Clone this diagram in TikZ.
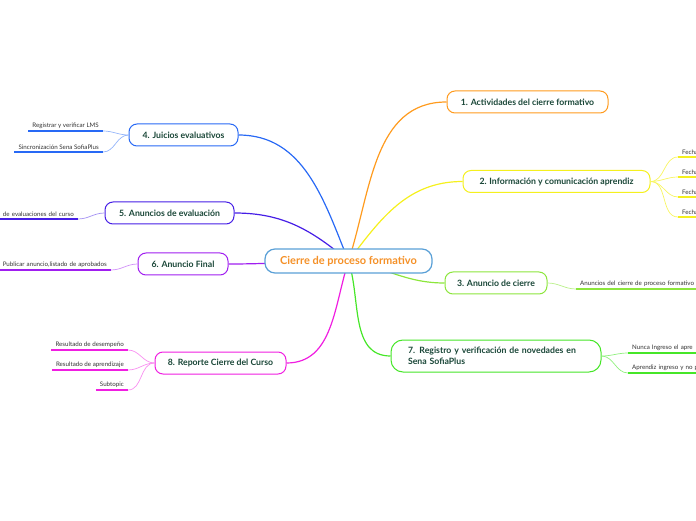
\documentclass[tikz,border=0pt]{standalone}
\usepackage{fontspec}
\setmainfont{Lato}
\usepackage{tikz}
\usetikzlibrary{backgrounds}
\definecolor{rootline}{RGB}{90,160,215}
\definecolor{roottext}{RGB}{245,145,40}
\definecolor{titletext}{RGB}{25,70,55}
\definecolor{subtext}{RGB}{50,50,50}
\definecolor{brone}{RGB}{255,155,30}
\definecolor{brtwo}{RGB}{245,240,30}
\definecolor{brthree}{RGB}{140,230,60}
\definecolor{brfour}{RGB}{40,105,245}
\definecolor{brfive}{RGB}{70,30,230}
\definecolor{brsix}{RGB}{160,30,240}
\definecolor{brseven}{RGB}{70,230,40}
\definecolor{breight}{RGB}{240,30,225}

\begin{document}
\begin{tikzpicture}[x=1pt, y=1pt,
    topic/.style={draw, fill=white, rounded corners=8pt, line width=1pt,
        minimum height=22pt, inner sep=2pt, text=titletext,
        font=\bfseries\fontsize{8.7}{11}\selectfont},
    subtopic/.style={inner xsep=4pt, inner ysep=2pt, text=subtext,
        font=\fontsize{6.2}{7}\selectfont},
    branch/.style={line width=1.2pt},
    twig/.style={line width=0.7pt},
    uline/.style={line width=1.8pt}
]
\useasboundingbox (0,0) rectangle (696,520);
\clip (0,0) rectangle (696,520);
\node[draw=rootline, fill=white, rounded corners=10pt, line width=1.2pt,
    minimum width=167pt, minimum height=24pt, text=roottext,
    font=\bfseries\fontsize{11}{13}\selectfont] (root) at (348.5,259)
    {Cierre de proceso formativo};
\node[topic, draw=brone, minimum width=161pt] (t1) at (527.5,418)
    {1. Actividades del cierre formativo};
\node[topic, draw=brtwo, minimum width=187pt] (t2) at (556.5,338.5)
    {2. Información y comunicación aprendiz};
\node[topic, draw=brthree, minimum width=102pt] (t3) at (496,237)
    {3. Anuncio de cierre};
\node[topic, draw=brfour, minimum width=109pt] (t4) at (183.5,385)
    {4. Juicios evaluativos};
\node[topic, draw=brfive, minimum width=129pt] (t5) at (169.5,307)
    {5. Anuncios de evaluación};
\node[topic, draw=brsix, minimum width=90pt] (t6) at (183,256)
    {6. Anuncio Final};
\node[topic, draw=brseven, minimum height=32pt, text width=180pt,
    inner xsep=15pt, align=left, rounded corners=12pt] (t7) at (496,164)
    {\hspace*{2pt}7. Registro y verificación de novedades en\\\hspace*{2pt}Sena SofiaPlus};
\node[topic, draw=breight, minimum width=131pt] (t8) at (220.5,157)
    {8. Reporte Cierre del Curso};

\node[subtopic, anchor=south west, text width=40pt, align=left] (s2a) at (678,363) {Fecha};
\node[subtopic, anchor=south west, text width=40pt, align=left] (s2b) at (678,343) {Fecha};
\node[subtopic, anchor=south west, text width=40pt, align=left] (s2c) at (678,323) {Fecha};
\node[subtopic, anchor=south west, text width=40pt, align=left] (s2d) at (678,303) {Fecha};
\node[subtopic, anchor=south west, text width=130pt, align=left] (s3a) at (576,231)
    {Anuncios del cierre de proceso formativo};
\node[subtopic, anchor=south east] (s4a) at (103,389) {Registrar y verificar LMS};
\node[subtopic, anchor=south east] (s4b) at (103,368) {Sincronización Sena SofiaPlus};
\node[subtopic, anchor=south east, text width=100pt, align=right] (s5a) at (78,301)
    {de evaluaciones del curso};
\node[subtopic, anchor=south east, text width=120pt, align=right] (s6a) at (111,250)
    {Publicar anuncio,listado de aprobados};
\node[subtopic, anchor=south west, text width=80pt, align=left] (s7a) at (628,167)
    {Nunca Ingreso el apre};
\node[subtopic, anchor=south west, text width=80pt, align=left] (s7b) at (628,147)
    {Aprendiz ingreso y no p};
\node[subtopic, anchor=south east] (s8a) at (128,170) {Resultado de desempeño};
\node[subtopic, anchor=south east] (s8b) at (128,150) {Resultado de aprendizaje};
\node[subtopic, anchor=south east] (s8c) at (128,130) {Subtopic};

\begin{scope}[on background layer]
\draw[branch, brone] (root.center) to[out=72, in=180] (t1.west);
\draw[branch, brtwo] (root.center) to[out=53, in=180] (t2.west);
\draw[branch, brthree] (root.center) to[out=-10, in=180] (t3.west);
\draw[branch, brfour] (root.center) to[out=112, in=0] (t4.east);
\draw[branch, brfive] (root.center) to[out=140, in=0] (t5.east);
\draw[branch, brsix] (root.center) to[out=180, in=0] (t6.east);
\draw[branch, brseven] (root.center) to[out=-72, in=180] (t7.west);
\draw[branch, breight] (root.center) to[out=-108, in=0] (t8.east);
\end{scope}

\foreach \s in {s2a,s2b,s2c,s2d}
    \draw[twig, brtwo!70] (t2.east) to[out=0, in=180] (\s.south west);
\draw[twig, brthree!60] (t3.east) to[out=0, in=180] (s3a.south west);
\foreach \s in {s4a,s4b}
    \draw[twig, brfour!50] (t4.west) to[out=180, in=0] (\s.south east);
\draw[twig, brfive!50] (t5.west) to[out=180, in=0] (s5a.south east);
\draw[twig, brsix!50] (t6.west) to[out=180, in=0] (s6a.south east);
\foreach \s in {s7a,s7b}
    \draw[twig, brseven!60] (t7.east) to[out=0, in=180] (\s.south west);
\foreach \s in {s8a,s8b,s8c}
    \draw[twig, breight!50] (t8.west) to[out=180, in=0] (\s.south east);

\foreach \s in {s2a,s2b,s2c,s2d}
    \draw[uline, brtwo] (\s.south west) -- (\s.south east);
\draw[uline, brthree] (s3a.south west) -- (s3a.south east);
\foreach \s in {s4a,s4b}
    \draw[uline, brfour] (\s.south west) -- (\s.south east);
\draw[uline, brfive] (s5a.south west) -- (s5a.south east);
\draw[uline, brsix] (s6a.south west) -- (s6a.south east);
\foreach \s in {s7a,s7b}
    \draw[uline, brseven] (\s.south west) -- (\s.south east);
\foreach \s in {s8a,s8b,s8c}
    \draw[uline, breight] (\s.south west) -- (\s.south east);
\end{tikzpicture}
\end{document}
